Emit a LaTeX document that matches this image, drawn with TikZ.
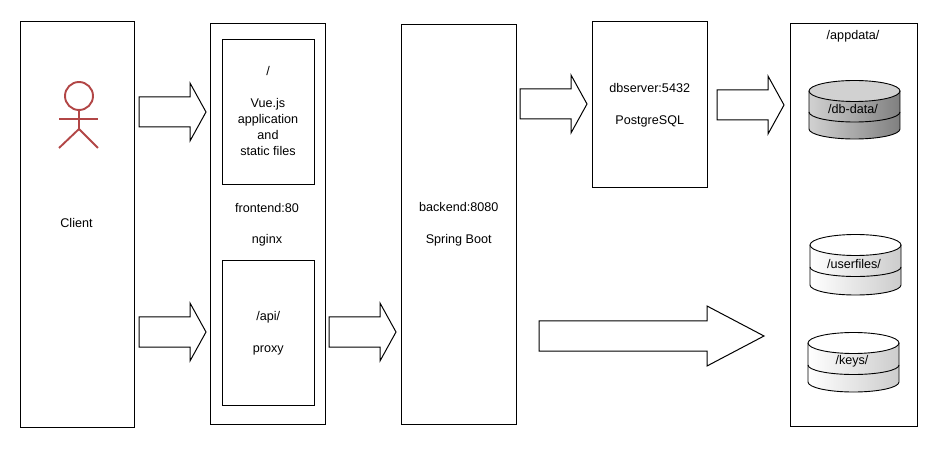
\documentclass[tikz,border=0pt]{standalone}
\usepackage{fontspec}
\setmainfont{Liberation Sans}
\tikzset{
  x=1pt,y=-1pt,
  boxnode/.style={draw=black,line width=1pt,fill=white,inner sep=0pt,anchor=north west,align=center,font=\fontsize{12.6}{16}\selectfont},
  lab/.style={inner sep=0pt,align=center,font=\fontsize{12.6}{16}\selectfont},
  blockarrow/.style={draw=black,line width=1pt,fill=white,line join=miter},
  actorline/.style={draw=actorred,line width=1.9pt},
  cylline/.style={draw=black,line width=0.9pt},
}
\definecolor{actorred}{RGB}{178,70,70}
\newcommand{\blockarr}[7]{% x0 x1 xhead ytop ybot yheadtop yheadbot
  \path[blockarrow] (#1,#4) -- (#3,#4) -- (#3,#6) -- (#2,{(#4+#5)/2}) -- (#3,#7) -- (#3,#5) -- (#1,#5) -- cycle;}
\begin{document}
\begin{tikzpicture}
\useasboundingbox (0,0) rectangle (945,454);
\fill[white] (0,0) rectangle (945,454);

% containers
\node[boxnode,minimum width=113.5pt,minimum height=405.5pt] (client) at (20,21) {};
\node[boxnode,minimum width=114.5pt,minimum height=400.5pt] (frontend) at (210,23) {};
\node[boxnode,minimum width=91.5pt,minimum height=145.5pt] (vue) at (222,39) {};
\node[lab] (vuelab) at (268,111) {/\\[16pt]Vue.js\\application\\and\\static files};
\node[boxnode,minimum width=91.5pt,minimum height=144.5pt] (api) at (222,260) {/api/\\[16pt]proxy};
\node[boxnode,minimum width=114.5pt,minimum height=399.5pt] (backend) at (401,24) {backend:8080\\[16pt]Spring Boot};
\node[boxnode,minimum width=114.5pt,minimum height=166.5pt] (db) at (592,21) {dbserver:5432\\[16pt]PostgreSQL};
\node[boxnode,minimum width=126.5pt,minimum height=402.5pt] (appdata) at (790,23) {};

\node[lab] (clientlab) at (76.5,223) {Client};
\node[lab] (frontlab) at (267,208) {frontend:80};
\node[lab] (nginxlab) at (267,240) {nginx};
\node[lab] (applab) at (853,36) {/appdata/};

% actor
\node[draw=actorred,line width=1.9pt,circle,minimum size=28pt,inner sep=0pt] (head) at (79,96) {};
\coordinate (neck) at (79,110.5);
\coordinate (hip) at (79,129);
\coordinate (armL) at (59,119);
\coordinate (armR) at (98,119);
\coordinate (legL) at (59,148);
\coordinate (legR) at (98,148);
\draw[actorline] (neck) -- (hip);
\draw[actorline] (armL) -- (armR);
\draw[actorline] (legL) -- (hip) -- (legR);

% block arrows
\blockarr{139}{206}{190}{97}{127}{83}{141}
\blockarr{139}{206}{190}{317}{347}{303}{361}
\blockarr{329}{396}{380}{317}{347}{303}{361}
\blockarr{520}{587}{571}{89}{119}{75}{133}
\blockarr{717}{784}{768}{90}{120}{76}{134}
\blockarr{539}{764}{707}{321}{351}{306}{366}

% cylinders: db-data
\path[left color=black!18,right color=black!50] (809,91) -- (809,129) arc[start angle=180,end angle=0,x radius=45.5,y radius=10] -- (900,91) -- cycle;
\fill[black!18] (854.5,91) ellipse[x radius=45.5,y radius=10.5];
\draw[cylline] (854.5,91) ellipse[x radius=45.5,y radius=10.5];
\draw[cylline] (809,91) -- (809,129) arc[start angle=180,end angle=0,x radius=45.5,y radius=10] -- (900,91);
\draw[cylline] (809,112) arc[start angle=180,end angle=0,x radius=45.5,y radius=10];
\node[lab] (dbdata) at (853,109) {/db-data/};

% userfiles
\path[left color=white,right color=black!20] (810,245) -- (810,285) arc[start angle=180,end angle=0,x radius=45.5,y radius=10] -- (901,245) -- cycle;
\fill[white] (855.5,245) ellipse[x radius=45.5,y radius=10.5];
\draw[cylline] (855.5,245) ellipse[x radius=45.5,y radius=10.5];
\draw[cylline] (810,245) -- (810,285) arc[start angle=180,end angle=0,x radius=45.5,y radius=10] -- (901,245);
\draw[cylline] (810,267) arc[start angle=180,end angle=0,x radius=45.5,y radius=9.5];
\node[lab] (userfiles) at (854,264) {/userfiles/};

% keys
\path[left color=white,right color=black!20] (808,343) -- (808,382) arc[start angle=180,end angle=0,x radius=45.5,y radius=10] -- (899,343) -- cycle;
\fill[white] (853.5,343) ellipse[x radius=45.5,y radius=10.5];
\draw[cylline] (853.5,343) ellipse[x radius=45.5,y radius=10.5];
\draw[cylline] (808,343) -- (808,382) arc[start angle=180,end angle=0,x radius=45.5,y radius=10] -- (899,343);
\draw[cylline] (808,365) arc[start angle=180,end angle=0,x radius=45.5,y radius=9.5];
\node[lab] (keys) at (852,361) {/keys/};
\end{tikzpicture}
\end{document}
